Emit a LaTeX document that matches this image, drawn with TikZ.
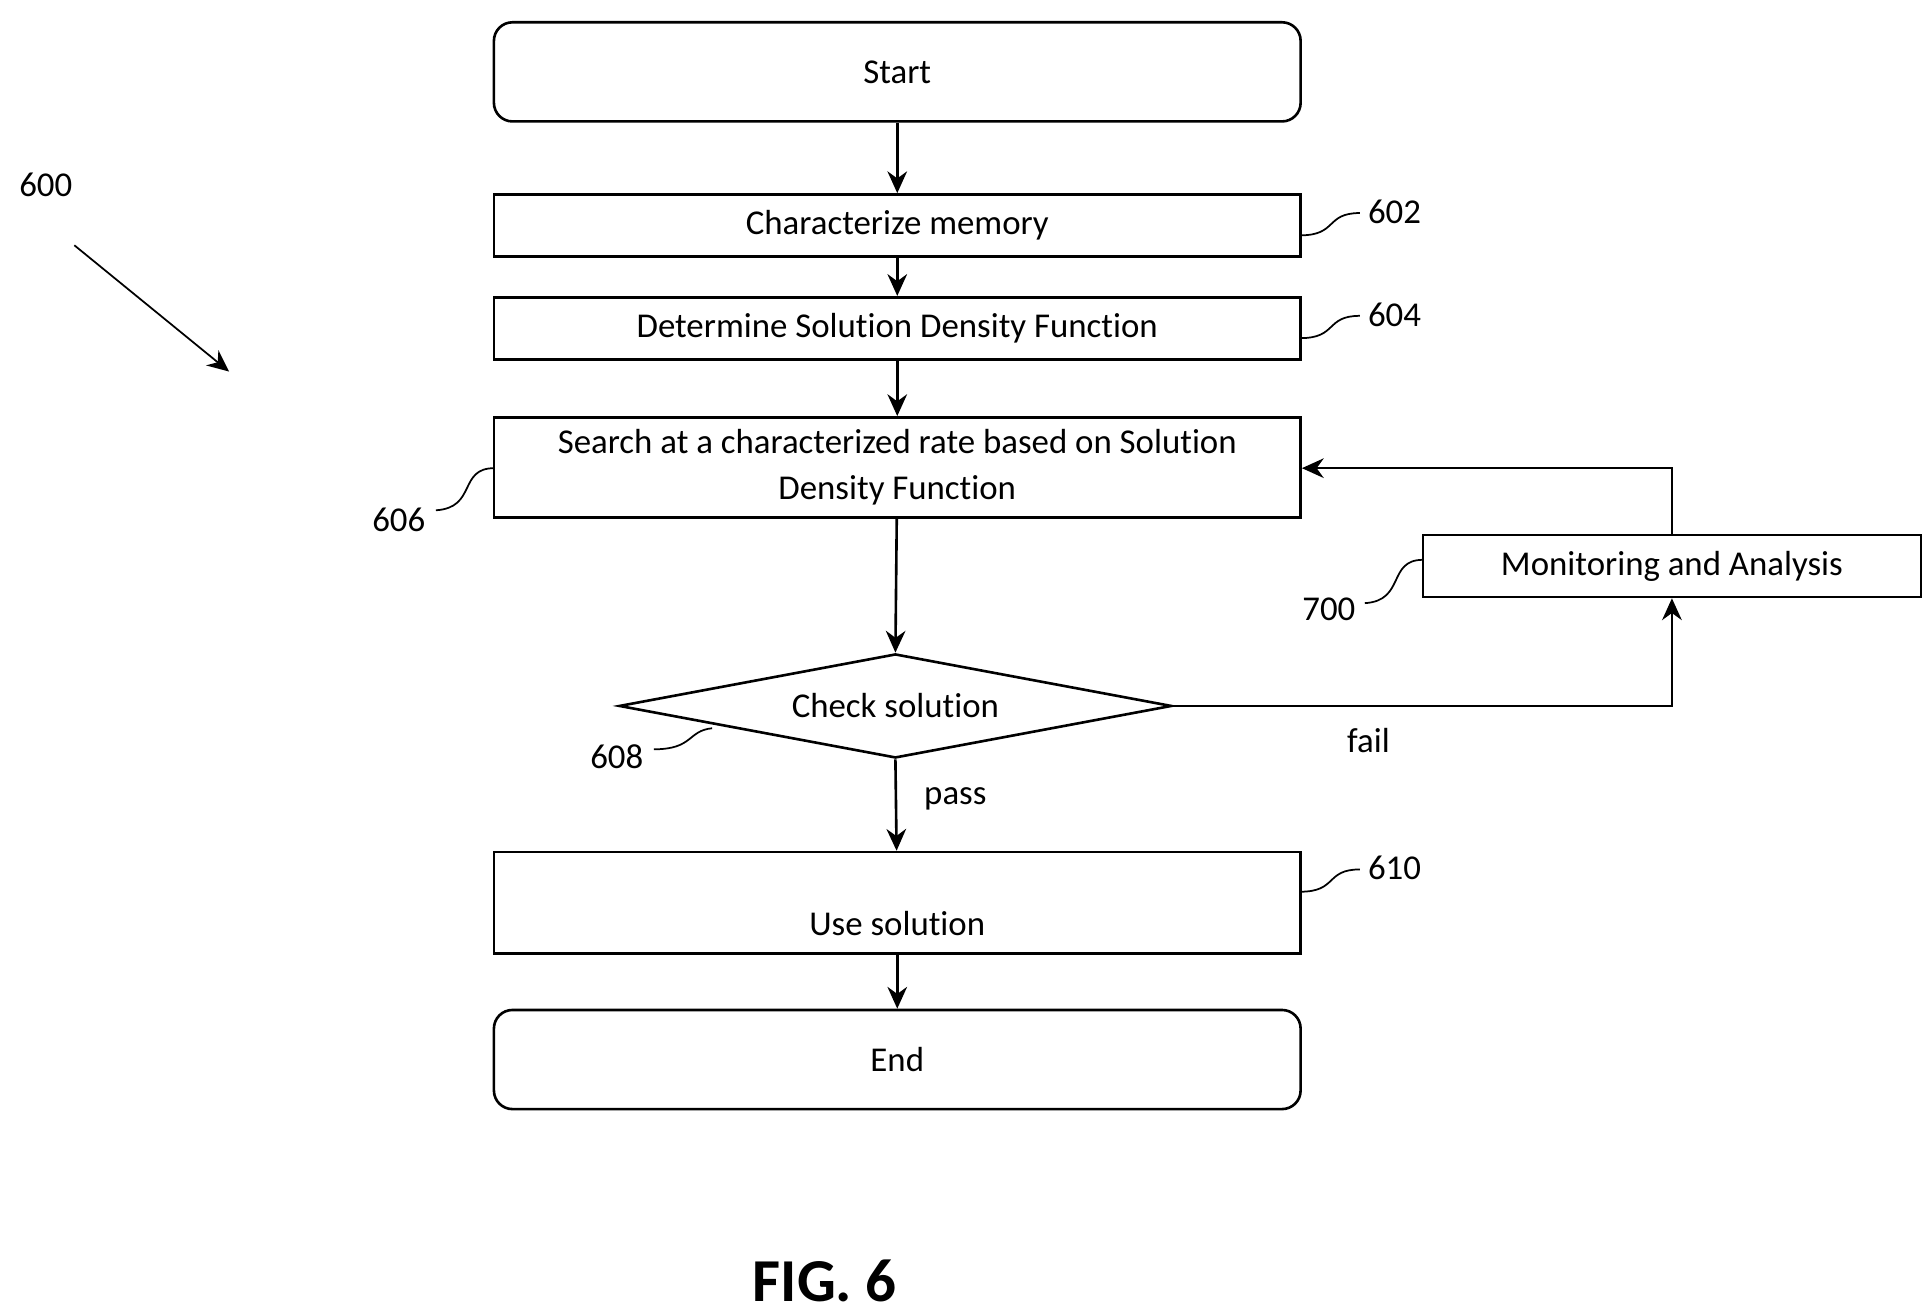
\documentclass[tikz,border=0pt]{standalone}
\usepackage{fontspec}
\setmainfont{Carlito}[Ligatures=NoCommon]
\usetikzlibrary{shapes.geometric,arrows.meta}
\begin{document}
\begin{tikzpicture}[x=0.01cm,y=-0.01cm,
 box/.style={draw,semithick,minimum width=6.51cm,font=\fontsize{8}{10.5}\selectfont,align=center,inner sep=0},
 rbox/.style={box,rounded corners=0.15cm,minimum height=0.8cm},
 lbl/.style={font=\fontsize{8}{10}\selectfont},
 arr/.style={-{Stealth[length=5pt,width=4.5pt]},semithick},
 sq/.style={thin}]
\useasboundingbox (0,0) rectangle (1560,1059);
\node[rbox] (start) at (724.5,58) {Start};
\node[box,minimum height=0.5cm] (b602) at (724.5,182) {Characterize memory};
\node[box,minimum height=0.5cm] (b604) at (724.5,265) {Determine Solution Density Function};
\node[box,minimum height=0.81cm] (b606) at (724.5,377.5) {Search at a characterized rate based on Solution\\Density Function};
\node[draw,semithick,diamond,aspect=5.3,minimum width=4.46cm,minimum height=0.84cm,inner sep=0,lbl] (chk) at (723,570) {};
\node[lbl] at (723,570) {Check solution};
\node[box,minimum height=0.82cm] (b610) at (724.5,729) {};
\node[lbl] at (724.5,746) {Use solution};
\node[rbox] (end) at (724.5,855.5) {End};
\node[box,minimum width=4.02cm,minimum height=0.5cm] (mon) at (1350,457) {Monitoring and Analysis};
\draw[arr] (start) -- (b602);
\draw[arr] (b602) -- (b604);
\draw[arr] (b604) -- (b606);
\draw[arr] (b606) -- (chk.north);
\draw[arr] (chk.south) -- node[right=0.1cm,lbl,yshift=0.05cm]{pass} (b610);
\draw[arr] (b610) -- (end);
\draw[arr] (chk.east) -- (1350,570) coordinate (c1) -- (mon.south);
\draw[arr] (mon.north) -- (1350,378) coordinate (c2) -- (b606.east |- c2);
\node[lbl] (fail) at (1105,598) {fail};
\node[lbl] (n600) at (37,149) {600};
\coordinate (a0) at (60,198); \coordinate (a1) at (185,300);
\draw[arr,thin] (a0) -- (a1);
\node[lbl] (l602) at (1126,171) {602};
\node[lbl] (l604) at (1126,254) {604};
\node[lbl] (l610) at (1126,701) {610};
\node[lbl] (l606) at (322,420) {606};
\node[lbl] (l608) at (498,611) {608};
\node[lbl] (l700) at (1073,492) {700};
\draw[sq] (1050,190) .. controls (1080,190) and (1070,172) .. (1098,172);
\draw[sq] (1050,273) .. controls (1080,273) and (1070,255) .. (1098,255);
\draw[sq] (1050,720) .. controls (1080,720) and (1070,702) .. (1098,702);
\draw[sq] (399,378) .. controls (370,378) and (385,410) .. (352,412);
\draw[sq] (575,588) .. controls (555,590) and (560,605) .. (528,605);
\draw[sq] (1149,452) .. controls (1120,452) and (1135,485) .. (1102,487);
\node[font=\bfseries\fontsize{14}{17}\selectfont] (fig) at (666,1034) {FIG. 6};
\end{tikzpicture}
\end{document}
